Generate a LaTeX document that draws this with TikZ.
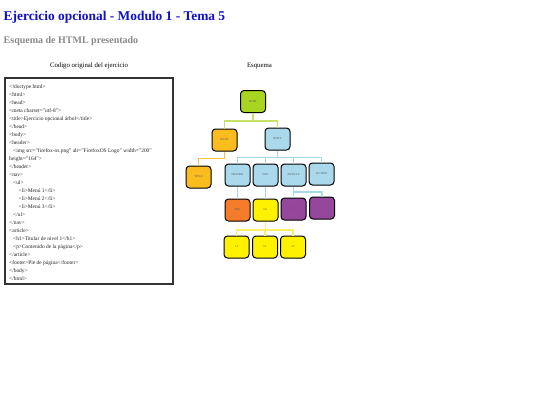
\documentclass[tikz,border=0pt]{standalone}
\usepackage{fontspec}
\setmainfont{Liberation Serif}
\definecolor{titleblue}{HTML}{1010CC}
\definecolor{subgray}{HTML}{8A8A8A}
\definecolor{cgreen}{HTML}{A8D520}
\definecolor{corange}{HTML}{FBBD1E}
\definecolor{cblue}{HTML}{A9D9EA}
\definecolor{cimg}{HTML}{F47B2A}
\definecolor{cyellow}{HTML}{FFF200}
\definecolor{cpurple}{HTML}{94479B}
\definecolor{lgreen}{HTML}{C8E06A}
\definecolor{lorange}{HTML}{F5C242}
\definecolor{lblue}{HTML}{A8D8E8}
\definecolor{lyellow}{HTML}{F7EE6A}
\tikzset{
  tbox/.style={draw=black, line width=1pt, rounded corners=3.5pt, minimum width=25pt, minimum height=22pt, inner sep=0pt, font=\fontsize{2.9}{3.2}\selectfont, text=black!65},
  conn/.style={line width=1.1pt},
  codeline/.style={anchor=base west, inner sep=0pt, font=\fontsize{5.45}{6}\selectfont, text=black!85},
}
\begin{document}
\begin{tikzpicture}[x=1pt,y=-1pt]
\useasboundingbox (0,0) rectangle (540,405);
\fill[white] (0,0) rectangle (540,405);
% headings
\node[anchor=base west, inner sep=0pt, font=\fontsize{13.4}{16}\selectfont\bfseries, text=titleblue] (t1) at (3.5,20.5) {Ejercicio opcional - Modulo 1 - Tema 5};
\node[anchor=base west, inner sep=0pt, font=\fontsize{10}{12}\selectfont\bfseries, text=subgray] (t2) at (3.5,43.5) {Esquema de HTML presentado};
\node[anchor=base, inner sep=0pt, font=\fontsize{6.8}{8}\selectfont] (t3) at (89,67.5) {Codigo original del ejercicio};
\node[anchor=base, inner sep=0pt, font=\fontsize{6.8}{8}\selectfont] (t4) at (259.5,67.5) {Esquema};
% code box
\draw[line width=2pt, draw=black!80] (5,78) rectangle (172.5,284);
\foreach \txt/\xx [count=\i from 0] in {
  {<!doctype html>}/9,
  {<html>}/9,
  {<head>}/9,
  {<meta charset="utf-8">}/9,
  {<title>Ejercicio opcional árbol</title>}/9,
  {</head>}/9,
  {<body>}/9,
  {<header>}/9,
  {<img src="firefox-os.png" alt="FirefoxOS Logo" width="200"}/13,
  {height="164">}/9,
  {</header>}/9,
  {<nav>}/9,
  {<ul>}/13,
  {<li>Menú 1</li>}/18.5,
  {<li>Menú 2</li>}/18.5,
  {<li>Menú 3</li>}/18.5,
  {</ul>}/13,
  {</nav>}/9,
  {<article>}/9,
  {<h1>Titular de nivel 1</h1>}/13,
  {<p>Contenido de la página</p>}/13,
  {</article>}/9,
  {<footer>Pie de página</footer>}/9,
  {</body>}/9,
  {</html>}/9}
  \node[codeline] (c\i) at (\xx,{88+8.04*\i}) {\txt};
% tree nodes
\node[tbox, fill=cgreen] (html) at (253,101.5) {HTML};
\node[tbox, fill=corange] (head) at (224.5,140) {HEAD};
\node[tbox, fill=cblue] (body) at (277.5,139) {BODY};
\node[tbox, fill=corange] (title) at (198.5,177) {TITLE};
\node[tbox, fill=cblue] (header) at (237.5,175) {HEADER};
\node[tbox, fill=cblue] (nav) at (265.5,175) {NAV};
\node[tbox, fill=cblue] (article) at (293.5,175) {ARTICLE};
\node[tbox, fill=cblue] (footer) at (321.5,174) {FOOTER};
\node[tbox, fill=cimg] (img) at (237.5,210) {IMG};
\node[tbox, fill=cyellow] (ul) at (265.5,210) {UL};
\node[tbox, fill=cpurple] (h1) at (293.5,209) {H1};
\node[tbox, fill=cpurple] (p) at (322,208) {P};
\node[tbox, fill=cyellow] (li1) at (236.5,247) {LI};
\node[tbox, fill=cyellow] (li2) at (265,247) {LI};
\node[tbox, fill=cyellow] (li3) at (293,247) {LI};
% junctions
\coordinate (j1) at (253,121);
\coordinate (j2) at (224.5,158.5);
\coordinate (j3) at (277.5,157.5);
\coordinate (j4) at (293.5,192);
\coordinate (j5) at (265.5,230);
% connectors
\draw[conn, lgreen] (html.south) -- (j1) -| (head.north);
\draw[conn, lgreen] (j1) -| (body.north);
\draw[conn, lorange] (head.south) -- (j2) -| (title.north);
\draw[conn, lblue] (body.south) -- (j3) -| (header.north);
\draw[conn, lblue] (j3) -| (nav.north);
\draw[conn, lblue] (j3) -| (article.north);
\draw[conn, lblue] (j3) -| (footer.north);
\draw[conn, lblue] (header.south) -- (img.north);
\draw[conn, lblue] (nav.south) -- (ul.north);
\draw[conn, lblue] (article.south) -- (h1.north);
\draw[conn, lblue] (j4) -| (p.north);
\draw[conn, lyellow] (ul.south) -- (j5) -| (li1.north);
\draw[conn, lyellow] (j5) -| (li2.north);
\draw[conn, lyellow] (j5) -| (li3.north);
\end{tikzpicture}
\end{document}
